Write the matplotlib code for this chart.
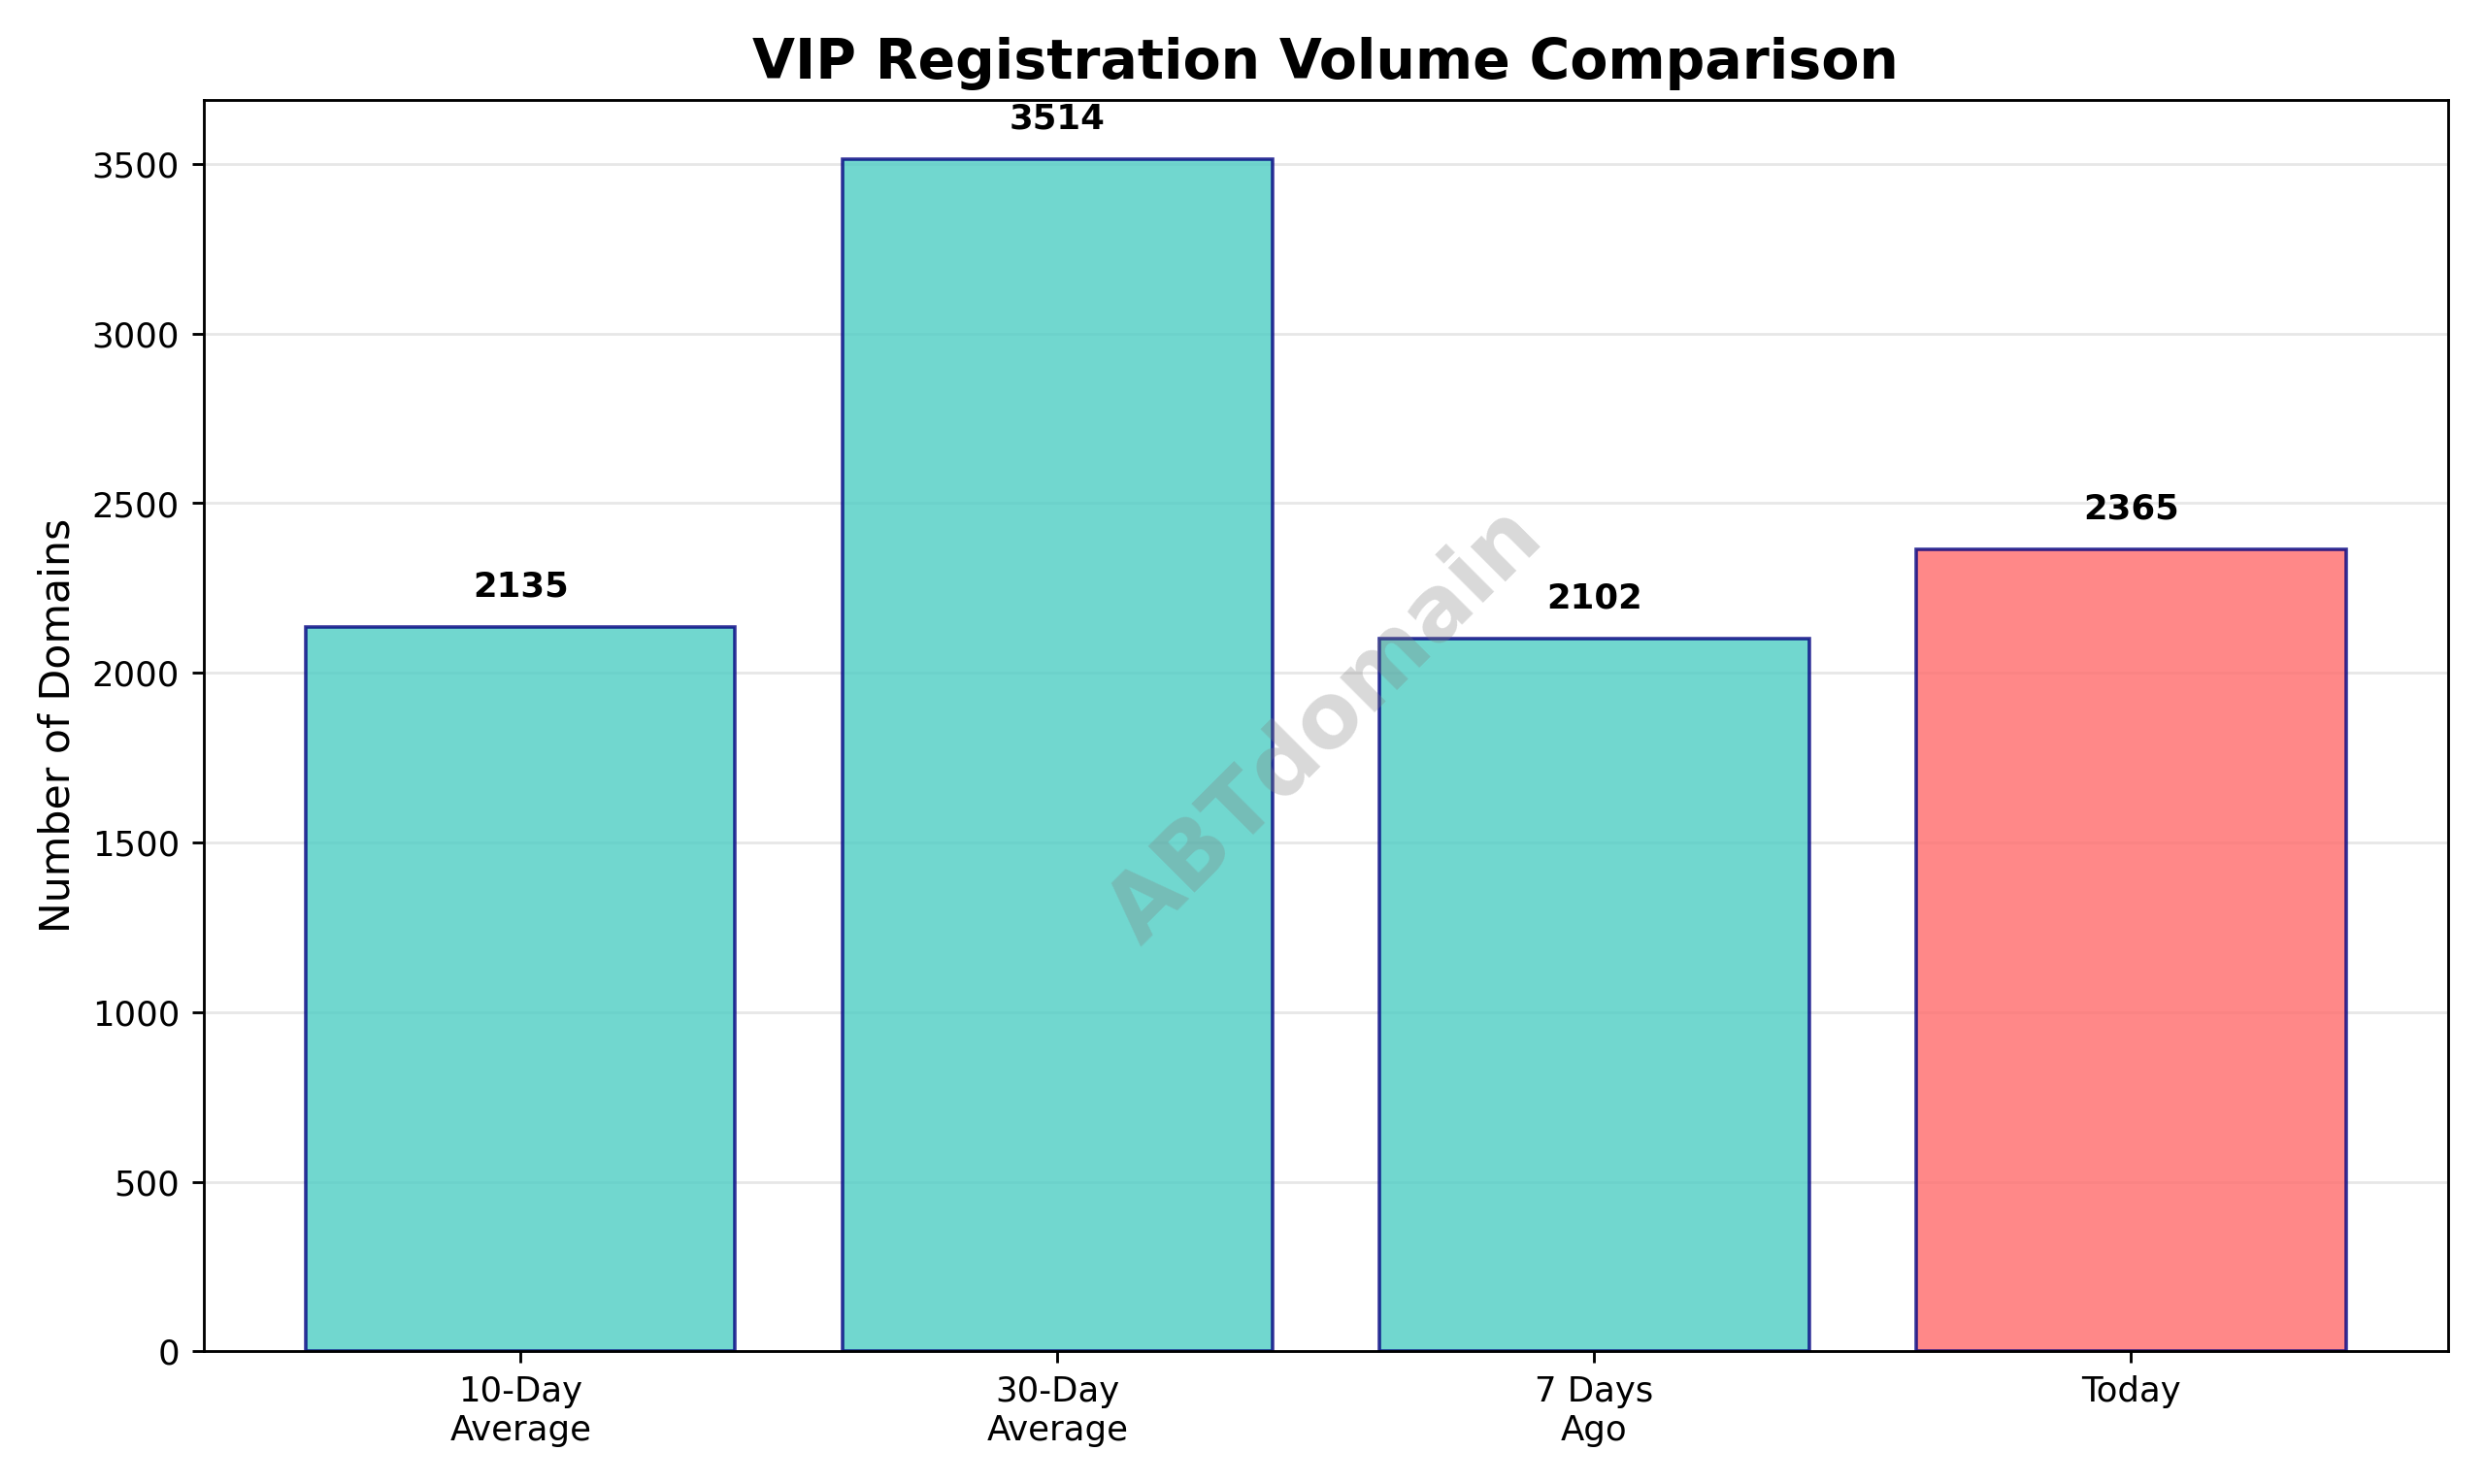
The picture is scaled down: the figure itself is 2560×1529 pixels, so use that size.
import matplotlib
matplotlib.use("Agg")
import matplotlib.pyplot as plt

categories = ["10-Day\nAverage", "30-Day\nAverage", "7 Days\nAgo", "Today"]
values = [2135, 3514, 2102, 2365]
colors = ["#4ECDC4", "#4ECDC4", "#4ECDC4", "#FF6B6B"]

fig, ax = plt.subplots(figsize=(10, 5.973), dpi=256)
bars = ax.bar(categories, values, color=colors, alpha=0.8, edgecolor="navy", linewidth=1.0)
for b, v in zip(bars, values):
    ax.text(b.get_x() + b.get_width() / 2, v + max(values) * 0.02, f"{v}",
            ha="center", va="bottom", fontweight="bold", fontsize=10)
ax.set_ylim(0, max(values) * 1.05)
ax.set_ylabel("Number of Domains", fontsize=12)
ax.set_title("VIP Registration Volume Comparison", fontsize=16, fontweight="bold")
ax.grid(axis="y", alpha=0.3)
ax.set_axisbelow(True)
ax.text(0.5, 0.5, "ABTdomain", transform=ax.transAxes, fontsize=26, color="gray",
        alpha=0.3, rotation=45, ha="center", va="center", fontweight="bold")
fig.tight_layout()
fig.savefig("out.png", dpi=256)
